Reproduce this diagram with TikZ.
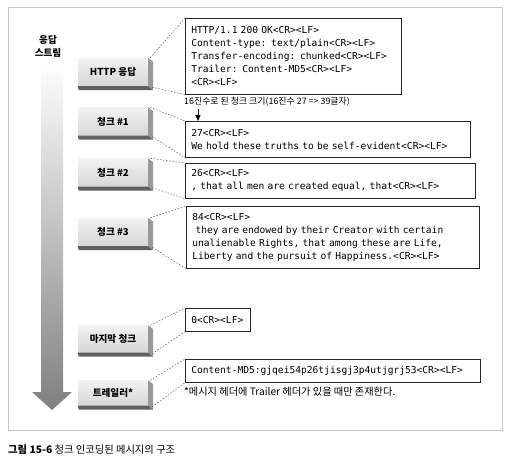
\documentclass[tikz,border=0pt]{standalone}
\usepackage{fontspec}
\setmonofont{DejaVu Sans Mono}
\newfontfamily\kr{Noto Sans CJK KR}
\usetikzlibrary{calc,arrows.meta}
\begin{document}
\begin{tikzpicture}[x=1pt,y=-1pt,
  block/.style={minimum width=70pt, minimum height=28pt, inner sep=0pt,
    top color=black!5, bottom color=black!16, font=\kr\bfseries\fontsize{9.6}{10}\selectfont},
  sideface/.style={fill=black!40},
  bottomface/.style={fill=black!62},
  txtbox/.style={draw=black!85, line width=0.6pt, anchor=north west, inner xsep=6pt,
    inner ysep=0pt, align=left, font=\ttfamily\fontsize{9.6}{13}\selectfont},
  conn/.style={draw=black!60, dash pattern=on 1.6pt off 1.6pt, line width=0.5pt},
  note/.style={font=\kr\fontsize{10.2}{11}\selectfont, inner sep=0pt, anchor=west},
]
\useasboundingbox (0,0) rectangle (512,461);
% outer frame
\draw[black!22, line width=0.8pt] (8,7) rectangle (502,430);
% stream arrow
\shade[top color=white, bottom color=black!50]
  (41,62) -- (63,62) -- (63,392) -- (72,392) -- (52,410) -- (32,392) -- (41,392) -- cycle;
\node[font=\kr\bfseries\fontsize{9.6}{13}\selectfont, align=center, inner sep=0pt] (stream) at (48,46) {응답\\스트림};

% blocks
\node[block] (hb) at (113,72) {HTTP 응답};
\node[block] (c1) at (113,121.5) {청크 \#1};
\node[block] (c2) at (113,172.5) {청크 \#2};
\node[block] (c3) at (113,232) {청크 \#3};
\node[block, minimum height=27pt] (cl) at (113,339) {마지막 청크};
\node[block, minimum height=25pt] (tr) at (113,393) {트레일러*};
\foreach \n in {hb,c1,c2,c3,cl,tr}{
  \fill[sideface] (\n.north east) -- ++(5,4) -- ($(\n.south east)+(5,4)$) -- (\n.south east) -- cycle;
  \fill[bottomface] (\n.south west) -- (\n.south east) -- ++(5,4) -- ($(\n.south west)+(1,4)$) -- cycle;
}

% text boxes
\node[txtbox, text width=204pt, minimum height=76pt] (b0) at (185,18)
 {HTTP/1.1 200 OK<CR><LF>\\Content-type: text/plain<CR><LF>\\Transfer-encoding: chunked<CR><LF>\\Trailer: Content-MD5<CR><LF>\\<CR><LF>};
\node[txtbox, text width=273pt, minimum height=36pt] (b1) at (185,121)
 {27<CR><LF>\\We hold these truths to be self-evident<CR><LF>};
\node[txtbox, text width=278pt, minimum height=35pt] (b2) at (185,163)
 {26<CR><LF>\\, that all men are created equal, that<CR><LF>};
\node[txtbox, text width=281pt, minimum height=62pt] (b3) at (186,206)
 {84<CR><LF>\\\ they are endowed by their Creator with certain\\unalienable Rights, that among these are Life,\\Liberty and the pursuit of Happiness.<CR><LF>};
\node[txtbox, text width=53pt, minimum height=23pt] (b4) at (185,308)
 {0<CR><LF>};
\node[txtbox, text width=283pt, minimum height=23pt] (b5) at (185,359)
 {Content-MD5:gjqei54p26tjisgj3p4utjgrj53<CR><LF>};

% connectors
\foreach \a/\b in {hb/b0,c1/b1,c2/b2,c3/b3,cl/b4,tr/b5}{
  \draw[conn] ($(\a.north east)+(2,0)$) -- (\b.north west);
  \draw[conn] ($(\a.south east)+(4,1)$) -- (\b.south west);
}

% size label and arrow
\node[note, font=\kr\fontsize{8.9}{11}\selectfont] (l16) at (184,102) {16진수로 된 청크 크기(16진수 27 => 39글자)};
\coordinate (ar) at (198,109);
\draw[line width=1pt, -{Triangle[length=6pt,width=5pt]}] (ar) -- (ar |- b1.north);

% footnote
\node[note] (fn) at (184,392) {*메시지 헤더에 Trailer 헤더가 있을 때만 존재한다.};

% caption
\node[font=\kr\fontsize{10.3}{11}\selectfont, inner sep=0pt, anchor=west] (cap) at (8,450)
 {{\bfseries 그림 15-6} 청크 인코딩된 메시지의 구조};
\end{tikzpicture}
\end{document}
